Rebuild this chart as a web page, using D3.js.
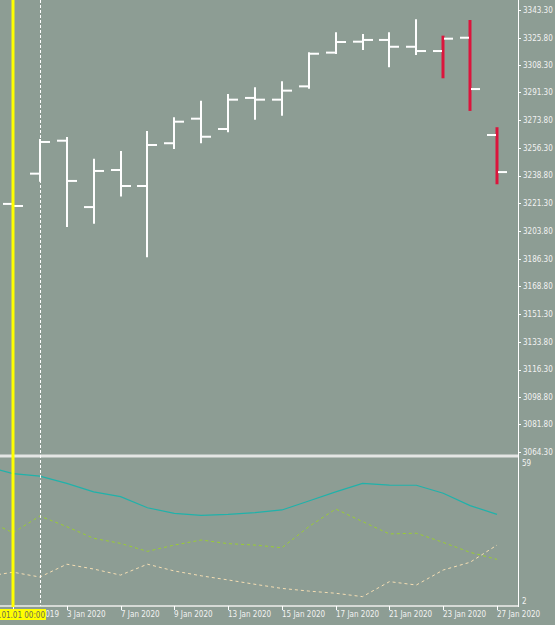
<!DOCTYPE html>
<html><head><meta charset="utf-8">
<script src="https://cdn.jsdelivr.net/npm/d3@7"></script>
<style>
body{margin:0;background:#8d9d94;overflow:hidden;}
svg{display:block;}
text{font-family:"DejaVu Sans Condensed","DejaVu Sans",sans-serif;font-size:8px;fill:#f2f2f2;}
</style></head><body>
<div id="div_chart"></div>
<script>
// daily bars
var dates = ["31 Dec 2019","2 Jan 2020","3 Jan 2020","6 Jan 2020","7 Jan 2020","8 Jan 2020","9 Jan 2020",
  "10 Jan 2020","13 Jan 2020","14 Jan 2020","15 Jan 2020","16 Jan 2020","17 Jan 2020","20 Jan 2020",
  "21 Jan 2020","22 Jan 2020","23 Jan 2020","24 Jan 2020","27 Jan 2020"];
var open  = [3220.9,3240.0,3260.8,3218.9,3242.3,3232.2,3259.2,3274.7,3268.2,3287.8,3286.7,3295.1,3316.4,3323.3,3324.4,3320.1,3317.4,3325.8,3264.4];
var high  = [3221.5,3261.9,3263.1,3249.4,3254.3,3266.9,3275.6,3286.0,3290.3,3294.5,3298.3,3316.6,3329.2,3328.2,3329.2,3337.5,3327.1,3337.0,3269.3];
var low   = [3219.0,3234.9,3206.3,3208.4,3225.5,3187.2,3255.6,3259.2,3266.1,3274.1,3276.6,3293.6,3315.5,3318.1,3307.1,3314.9,3300.2,3279.6,3233.3];
var close = [3219.6,3260.0,3235.4,3241.7,3232.2,3258.1,3272.8,3263.3,3286.7,3286.7,3292.4,3315.7,3323.1,3324.4,3320.1,3317.4,3325.2,3293.4,3241.0];
var signal = [0,0,0,0,0,0,0,0,0,0,0,0,0,0,0,0,1,1,1];

var priceTicks = ["3343.30","3325.80","3308.30","3291.30","3273.80","3256.30","3238.80","3221.30","3203.80",
  "3186.30","3168.80","3151.30","3133.80","3116.30","3098.80","3081.80","3064.30"];

// indicator window, first value belongs to the bar before 31 Dec
var lineMain = [57.7,54.6,53.6,50.6,47.1,45.1,40.5,38.2,37.4,37.8,38.5,39.6,43.3,47.1,50.6,49.9,49.8,46.5,41.4,37.8];
var linePlus = [35.4,30.2,37.1,32.7,27.9,25.8,22.5,25.1,27.2,25.7,25.1,24.0,32.7,40.0,34.8,29.7,30.0,26.2,22.1,19.2];
var lineMinus = [12.1,13.9,11.9,17.2,15.2,12.7,17.2,14.4,12.4,10.7,8.9,7.2,6.1,5.2,3.8,10.0,8.6,14.8,18.0,25.1];
var indTicks = [59,2];

var width = 555, height = 625,
    plotRight = 518, mainBottom = 455, indTop = 457, indBottom = 606;

var svg = d3.select('#div_chart').append('svg')
  .attr('width', width).attr('height', height);

var defs = svg.append('defs');
defs.append('clipPath').attr('id','clip-main')
  .append('rect').attr('x',0).attr('y',0).attr('width',plotRight).attr('height',mainBottom);
defs.append('clipPath').attr('id','clip-ind')
  .append('rect').attr('x',0).attr('y',indTop).attr('width',plotRight).attr('height',indBottom-indTop);

var x = d3.scaleLinear().domain([0,18]).range([13,497]);
var y = d3.scaleLinear().domain([3064.3,3343.3]).range([452,10]);
var yi = d3.scaleLinear().domain([2,59]).range([601,463]);

var bx = function(i){ return Math.round(x(i)); };

//price bars
var main = svg.append('g').attr('clip-path','url(#clip-main)');
var bars = main.selectAll('.bar').data(dates).enter().append('g').attr('class','bar');

bars.append('line')
  .attr('x1', function(d,i){ return bx(i); })
  .attr('x2', function(d,i){ return bx(i); })
  .attr('y1', function(d,i){ return y(high[i]); })
  .attr('y2', function(d,i){ return y(low[i]); })
  .attr('stroke', function(d,i){ return signal[i] ? '#dc143c' : '#ffffff'; })
  .attr('stroke-width', function(d,i){ return signal[i] ? 3 : 2; });

bars.append('line')
  .attr('x1', function(d,i){ return bx(i) - 10; })
  .attr('x2', function(d,i){ return bx(i) - 1; })
  .attr('y1', function(d,i){ return y(open[i]); })
  .attr('y2', function(d,i){ return y(open[i]); })
  .attr('stroke', '#ffffff').attr('stroke-width', 2);

bars.append('line')
  .attr('x1', function(d,i){ return bx(i) + 1; })
  .attr('x2', function(d,i){ return bx(i) + 10; })
  .attr('y1', function(d,i){ return y(close[i]); })
  .attr('y2', function(d,i){ return y(close[i]); })
  .attr('stroke', '#ffffff').attr('stroke-width', 2);

//indicator lines
var ind = svg.append('g').attr('clip-path','url(#clip-ind)');
var indLine = d3.line()
  .x(function(d,i){ return x(i - 1); })
  .y(function(d){ return yi(d); });

ind.append('path').datum(lineMinus)
  .attr('d', indLine).attr('fill','none')
  .attr('stroke','#f5deb3').attr('stroke-width',1).attr('stroke-dasharray','3,3');
ind.append('path').datum(linePlus)
  .attr('d', indLine).attr('fill','none')
  .attr('stroke','#9acd32').attr('stroke-width',1).attr('stroke-dasharray','3,3');
ind.append('path').datum(lineMain)
  .attr('d', indLine).attr('fill','none')
  .attr('stroke','#20b2aa').attr('stroke-width',1.2);

//frame
svg.append('line')
  .attr('x1',0).attr('x2',plotRight).attr('y1',456).attr('y2',456)
  .attr('stroke','#e4e6e4').attr('stroke-width',3);
svg.append('line')
  .attr('x1',0).attr('x2',plotRight).attr('y1',606).attr('y2',606)
  .attr('stroke','#d6dad6').attr('stroke-width',2);
svg.append('line')
  .attr('x1',plotRight + 0.5).attr('x2',plotRight + 0.5).attr('y1',0).attr('y2',607)
  .attr('stroke','#ffffff').attr('stroke-width',1);

//price axis
var priceAxis = svg.append('g');
priceAxis.selectAll('line').data(priceTicks).enter().append('line')
  .attr('x1', plotRight).attr('x2', plotRight + 3)
  .attr('y1', function(d){ return Math.round(y(+d)) + 0.5; })
  .attr('y2', function(d){ return Math.round(y(+d)) + 0.5; })
  .attr('stroke','#ffffff');
priceAxis.selectAll('text').data(priceTicks).enter().append('text')
  .attr('x', plotRight + 5)
  .attr('y', function(d){ return y(+d); })
  .attr('dy','0.35em')
  .text(function(d){ return d; });

//indicator axis
svg.selectAll('.ind_label').data(indTicks).enter().append('text')
  .attr('class','ind_label')
  .attr('x', plotRight + 4)
  .attr('y', function(d){ return yi(d); })
  .attr('dy','0.35em')
  .text(function(d){ return d; });

//time axis
var timeIdx = d3.range(0, dates.length, 2);
svg.selectAll('.time_tick').data(timeIdx).enter().append('line')
  .attr('class','time_tick')
  .attr('x1', function(d){ return bx(d) + 0.5; })
  .attr('x2', function(d){ return bx(d) + 0.5; })
  .attr('y1', 606).attr('y2', 610)
  .attr('stroke','#ffffff');
svg.selectAll('.time_label').data(timeIdx).enter().append('text')
  .attr('class','time_label')
  .attr('x', function(d){ return bx(d); })
  .attr('y', 617)
  .text(function(d){ return dates[d]; });

//vertical line objects
svg.append('line')
  .attr('x1', bx(1) + 0.5).attr('x2', bx(1) + 0.5)
  .attr('y1', 0).attr('y2', 606)
  .attr('stroke','#ffffff').attr('stroke-width',1).attr('stroke-dasharray','3,2');
svg.append('line')
  .attr('x1', x(0)).attr('x2', x(0))
  .attr('y1', 0).attr('y2', 607)
  .attr('stroke','#ffff00').attr('stroke-width',3);

var vlabel = svg.append('g');
vlabel.append('rect')
  .attr('x', -20).attr('y', 609).attr('width', 66).attr('height', 11)
  .attr('fill','#ffff00');
vlabel.append('text')
  .attr('x', 45).attr('y', 617.5)
  .attr('text-anchor','end')
  .style('fill','#6b6b55')
  .text('1970.01.01 00:00');
</script>
</body></html>
